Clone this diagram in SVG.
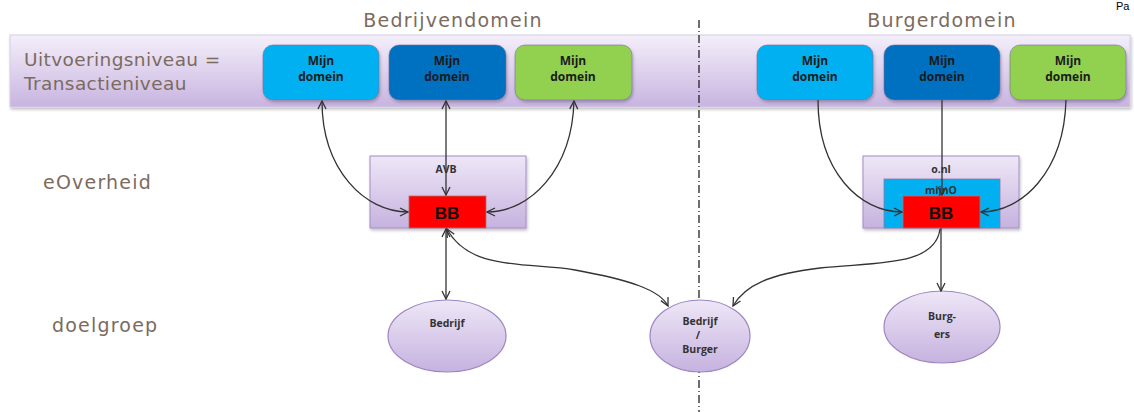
<svg xmlns="http://www.w3.org/2000/svg" width="1134" height="412" viewBox="0 0 1134 412">
<style>
.lbl{font-family:"DejaVu Sans","Liberation Sans",Arial,sans-serif;fill:#7b6b5e;font-size:19px;letter-spacing:1.2px}
.bl{font-family:"DejaVu Sans","Liberation Sans",Arial,sans-serif;fill:#7b6b5e;font-size:18.5px;letter-spacing:0.4px}
.bx{font-family:"Open Sans","Liberation Sans",sans-serif;font-weight:bold;font-size:12px;fill:#1a1a1a;text-anchor:middle}
.sm{font-family:"Open Sans","Liberation Sans",sans-serif;font-weight:bold;font-size:10.5px;fill:#333;text-anchor:middle}
.bb{font-family:"Liberation Sans",Arial,sans-serif;font-weight:bold;font-size:17px;fill:#111;text-anchor:middle}
.con{fill:none;stroke:#333;stroke-width:1.3}
.md{stroke:#7d6a99;stroke-width:1;stroke-opacity:0.6}
</style>
<defs>
<linearGradient id="band" x1="0" y1="0" x2="0" y2="1"><stop offset="0" stop-color="#f4effa"/><stop offset="1" stop-color="#c8b4e0"/></linearGradient>
<linearGradient id="lav" x1="0" y1="0" x2="0" y2="1"><stop offset="0" stop-color="#eee7f7"/><stop offset="1" stop-color="#c6b2df"/></linearGradient>
<marker id="ah" viewBox="0 0 10 10" refX="9" refY="5" markerWidth="10" markerHeight="10" markerUnits="userSpaceOnUse" orient="auto-start-reverse"><path d="M1,1 L9,5 L1,9" fill="none" stroke="#333" stroke-width="1.3"/></marker>
<filter id="sh" x="-10%" y="-10%" width="120%" height="130%"><feDropShadow dx="1" dy="2" stdDeviation="1.5" flood-color="#000" flood-opacity="0.25"/></filter>
</defs>
<rect width="1134" height="412" fill="#fff"/>
<text x="1116" y="10" font-family="Liberation Sans,sans-serif" font-size="11" fill="#000">Pa</text>

<g id="band-layer">
<rect x="10" y="35" width="1120" height="72" fill="url(#band)" stroke="#d6cbe5" stroke-width="1" filter="url(#sh)"/>
<text class="bl" x="24" y="66">Uitvoeringsniveau =</text>
<text class="bl" x="24" y="90">Transactieniveau</text>
</g>
<g id="headers">
<text class="lbl" x="453" y="27" text-anchor="middle">Bedrijvendomein</text>
<text class="lbl" x="942" y="27" text-anchor="middle">Burgerdomein</text>
<text class="lbl" x="43" y="189">eOverheid</text>
<text class="lbl" x="52" y="332">doelgroep</text>
</g>

<g id="divider"><line x1="699" y1="20" x2="699" y2="412" stroke="#222" stroke-width="1.3" stroke-dasharray="8,3,1,3"/></g>

<g id="md1"><rect class="md" x="263" y="45" width="116" height="55" rx="10" fill="#00b0f0" filter="url(#sh)"/><text class="bx" x="321" y="65">Mijn</text><text class="bx" x="321" y="81">domein</text></g>
<g id="md2"><rect class="md" x="389" y="45" width="117" height="55" rx="10" fill="#0070c0" filter="url(#sh)"/><text class="bx" x="447" y="65">Mijn</text><text class="bx" x="447" y="81">domein</text></g>
<g id="md3"><rect class="md" x="515" y="45" width="117" height="55" rx="10" fill="#92d050" filter="url(#sh)"/><text class="bx" x="573" y="65">Mijn</text><text class="bx" x="573" y="81">domein</text></g>
<g id="md4"><rect class="md" x="757" y="45" width="116" height="55" rx="10" fill="#00b0f0" filter="url(#sh)"/><text class="bx" x="815" y="65">Mijn</text><text class="bx" x="815" y="81">domein</text></g>
<g id="md5"><rect class="md" x="884" y="45" width="116" height="55" rx="10" fill="#0070c0" filter="url(#sh)"/><text class="bx" x="942" y="65">Mijn</text><text class="bx" x="942" y="81">domein</text></g>
<g id="md6"><rect class="md" x="1010" y="45" width="116" height="55" rx="10" fill="#92d050" filter="url(#sh)"/><text class="bx" x="1068" y="65">Mijn</text><text class="bx" x="1068" y="81">domein</text></g>

<g id="avb"><rect x="370" y="156" width="156" height="72" fill="url(#lav)" stroke="#a48cc6" stroke-width="1" filter="url(#sh)"/><text class="sm" x="446" y="173" font-size="11.5">AVB</text></g>
<g id="bb-left"><rect x="409" y="196" width="77" height="32" fill="#ff0000" stroke="#b07070" stroke-width="0.8"/><text class="bb" x="447" y="219">BB</text></g>

<g id="onl"><rect x="863" y="156" width="156" height="72" fill="url(#lav)" stroke="#a48cc6" stroke-width="1" filter="url(#sh)"/><text class="sm" x="941" y="173" font-size="11.5">o.nl</text></g>
<g id="mijno"><rect x="884" y="179" width="116" height="49" fill="#00b0f0" stroke="#8a7aaa" stroke-width="0.8"/><text class="sm" x="941" y="194" font-size="11.5">mijnO</text></g>
<g id="bb-right"><rect x="903" y="196" width="77" height="32" fill="#ff0000" stroke="#b07070" stroke-width="0.8"/><text class="bb" x="941" y="219">BB</text></g>

<g id="bedrijf"><ellipse cx="447" cy="336" rx="59" ry="36" fill="url(#lav)" stroke="#9d85c0" stroke-width="1.2"/><text class="sm" x="447" y="327">Bedrijf</text></g>
<g id="bedrijf-burger"><ellipse cx="700" cy="336" rx="50" ry="36" fill="url(#lav)" stroke="#9d85c0" stroke-width="1.2"/><text class="sm" x="700" y="325" font-size="9.5">Bedrijf</text><text class="sm" x="698" y="339" font-size="9.5">/</text><text class="sm" x="700" y="353" font-size="9.5">Burger</text></g>
<g id="burgers"><ellipse cx="942" cy="327" rx="58" ry="36" fill="url(#lav)" stroke="#9d85c0" stroke-width="1.2"/><text class="sm" x="942" y="320">Burg-</text><text class="sm" x="942" y="338">ers</text></g>

<g id="connectors">
<path class="con" d="M322,101 C322,170 365,212 408,212" marker-start="url(#ah)" marker-end="url(#ah)"/>
<line class="con" x1="446" y1="101" x2="446" y2="195" marker-start="url(#ah)" marker-end="url(#ah)"/>
<path class="con" d="M574,101 C572,170 530,212 487,212" marker-start="url(#ah)" marker-end="url(#ah)"/>
<line class="con" x1="446" y1="229" x2="446" y2="299" marker-start="url(#ah)" marker-end="url(#ah)"/>
<path class="con" d="M447,229 C470,272 530,262 575,270 C630,280 660,290 668,306" marker-start="url(#ah)" marker-end="url(#ah)"/>
<path class="con" d="M818,100 C818,172 860,212 902,212" marker-end="url(#ah)"/>
<line class="con" x1="942" y1="100" x2="942" y2="195" marker-end="url(#ah)"/>
<path class="con" d="M1066,100 C1064,172 1022,212 981,212" marker-end="url(#ah)"/>
<line class="con" x1="941" y1="228" x2="941" y2="291" marker-end="url(#ah)"/>
<path class="con" d="M940,229 C935,268 870,262 820,268 C770,274 745,285 733,306" marker-end="url(#ah)"/>
</g>
</svg>
